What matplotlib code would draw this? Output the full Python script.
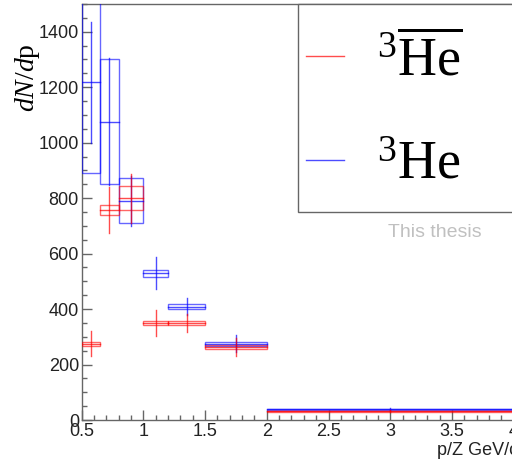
import matplotlib
matplotlib.use("Agg")
import matplotlib.pyplot as plt
from matplotlib.patches import Rectangle
from matplotlib.ticker import MultipleLocator
import numpy as np

# ---- data ----
bin_edges = [0.5, 0.65, 0.8, 1.0, 1.2, 1.5, 2.0, 4.0]
antihe_val = [275, 757, 800, 350, 350, 263, 32]
antihe_stat = [46, 84, 88, 48, 34, 32, 3]
antihe_sys = [7, 18, 42, 8, 8, 8, 2]
he_val = [1217, 1076, 790, 529, 409, 275, 39]
he_stat = [217, 228, 90, 58, 30, 30, 4]
he_sys = [327, 226, 81, 12, 10, 8, 2]
xtick_labels = ['0.5', '1', '1.5', '2', '2.5', '3', '3.5', '4']
ytick_labels = ['0', '200', '400', '600', '800', '1000', '1200', '1400']

W, H = 512, 461
plt.rcParams['mathtext.fontset'] = 'custom'
plt.rcParams['mathtext.rm'] = 'Liberation Serif'
plt.rcParams['mathtext.it'] = 'Liberation Serif:italic'
plt.rcParams['font.family'] = 'Liberation Sans'

fig = plt.figure(figsize=(W / 100, H / 100), dpi=100)
x0_px, y0_px, ytop_px = 81.7, 420, 4
xmin, xmax = 0.5, 4.3
px_per_unit = 123.4
ax = fig.add_axes([x0_px / W, 1 - y0_px / H,
                   (xmax - xmin) * px_per_unit / W, (y0_px - ytop_px) / H])
ax.set_xlim(xmin, xmax)
ax.set_ylim(0, 1500)

frame_c = '#666666'
for s in ax.spines.values():
    s.set_color(frame_c)
    s.set_linewidth(1.0)

def draw(vals, stats, syss, color):
    for i, v in enumerate(vals):
        lo, hi = bin_edges[i], bin_edges[i + 1]
        c = 0.5 * (lo + hi)
        ax.add_patch(Rectangle((lo, v - syss[i]), hi - lo, 2 * syss[i],
                               fill=False, edgecolor=color, lw=1.0, alpha=0.6, zorder=3))
        ax.plot([lo, hi], [v, v], color=color, lw=1.0, alpha=0.7, zorder=4)
        ax.plot([c, c], [v - stats[i], v + stats[i]], color=color, lw=1.0, alpha=0.7, zorder=4)

draw(he_val, he_stat, he_sys, '#0000ff')
draw(antihe_val, antihe_stat, antihe_sys, '#ff0000')

ax.xaxis.set_minor_locator(MultipleLocator(0.1))
ax.yaxis.set_minor_locator(MultipleLocator(50))
ax.set_xticks([float(t) for t in xtick_labels])
ax.set_xticklabels(xtick_labels)
ax.set_yticks([float(t) for t in ytick_labels])
ax.set_yticklabels(ytick_labels)
ax.tick_params(which='both', direction='in', color=frame_c, top=False, right=False,
               labelsize=13, labelcolor='#222222')
ax.tick_params(which='major', length=7.5, width=1.0, pad=2)
ax.tick_params(which='minor', length=3.8, width=1.0)

def fx(px):
    return px / W

def fy(py):
    return 1 - py / H

# axis titles
fig.text(fx(28), fy(78), r'$dN/d\mathrm{p}$', rotation=90, ha='center', va='center', fontsize=20)
fig.text(fx(437), fy(455), 'p/Z GeV/c', ha='left', va='baseline', fontsize=13, color='#222222')

# legend box
fig.patches.append(Rectangle((fx(298), fy(212)), fx(600) - fx(298), fy(4) - fy(212),
                             transform=fig.transFigure, fill=True, facecolor='white',
                             edgecolor=frame_c, lw=1.0, zorder=5))
fig.lines.append(plt.Line2D([fx(306), fx(344)], [fy(56), fy(56)], transform=fig.transFigure,
                            color='#ff0000', alpha=0.7, lw=1.0, zorder=6))
fig.lines.append(plt.Line2D([fx(306), fx(344)], [fy(160), fy(160)], transform=fig.transFigure,
                            color='#0000ff', alpha=0.7, lw=1.0, zorder=6))
fig.text(fx(377), fy(76), r'${}^{3}\overline{\mathrm{He}}$', ha='left', va='baseline',
         fontsize=39, zorder=7)
fig.text(fx(377), fy(178), r'${}^{3}\mathrm{He}$', ha='left', va='baseline',
         fontsize=39, zorder=7)
fig.text(fx(388), fy(237), 'This thesis', ha='left', va='baseline', fontsize=14,
         color='#c0c0c0', zorder=7)

fig.savefig('out.png', dpi=100)
